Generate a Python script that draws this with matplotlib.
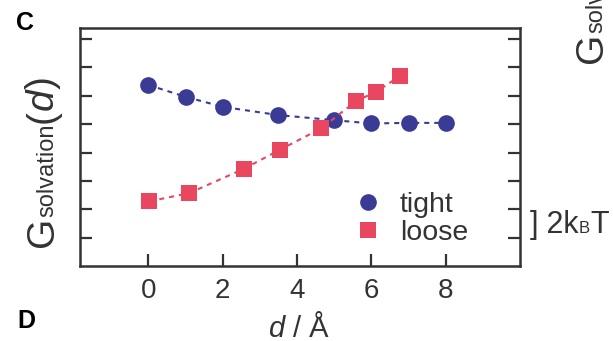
import numpy as np
import matplotlib
matplotlib.use("Agg")
import matplotlib.pyplot as plt
from matplotlib.lines import Line2D

plt.rcParams['font.family'] = ['Liberation Sans', 'DejaVu Sans']
plt.rcParams['mathtext.fontset'] = 'custom'
plt.rcParams['mathtext.rm'] = 'Liberation Sans'
plt.rcParams['mathtext.it'] = 'Liberation Sans:italic'

# solvation free energy (kBT) vs separation d (Angstrom)
d_tight = [0, 1, 2, 3.5, 5, 6, 7, 8]
g_tight = [12.76, 11.93, 11.22, 10.64, 10.28, 10.05, 10.09, 10.09]
d_loose = [0.03, 1.1, 2.56, 3.55, 4.65, 5.6, 6.13, 6.77]
g_loose = [4.56, 5.14, 6.84, 8.21, 9.70, 11.65, 12.28, 13.39]

x_ticks = [0, 2, 4, 6, 8]
y_ticks = [2, 4, 6, 8, 10, 12, 14, 16]

BLUE = '#393b95'
RED = '#e9465f'
INK = '#333333'

W, H = 613, 341
fig = plt.figure(figsize=(W / 100, H / 100), dpi=100)
ax = fig.add_axes([80 / W, (H - 266) / H, 440 / W, 238 / H])

ax.plot(d_tight, g_tight, ls=(0, (2.4, 2.4)), lw=1.5, color=BLUE,
        marker='o', ms=12, mew=0, zorder=3)
ax.plot(d_loose, g_loose, ls=(0, (2.4, 2.4)), lw=1.5, color=RED,
        marker='s', ms=11.5, mew=0, zorder=3)

ax.set_xlim(-1.84, 10.0)
ax.set_ylim(0, 16.78)
ax.set_xticks(x_ticks)
ax.set_yticks(y_ticks)
ax.set_yticklabels([])
ax.tick_params(direction='in', length=8.5, width=1.6, color=INK,
               labelsize=20, labelcolor=INK, pad=8.5, right=True)
for s in ax.spines.values():
    s.set_linewidth(1.8)
    s.set_color(INK)

handles = [Line2D([], [], ls='none', marker='o', ms=12, mew=0, color=BLUE),
           Line2D([], [], ls='none', marker='s', ms=11, mew=0, color=RED)]
ax.legend(handles, ['tight', 'loose'], loc='upper left',
          bbox_to_anchor=(0.627, 0.31), frameon=False, fontsize=20.5,
          handlelength=0.87, handletextpad=0.67, labelspacing=0.05,
          borderpad=0, borderaxespad=0, labelcolor=INK)

fig.canvas.draw()
rend = fig.canvas.get_renderer()


def chain(parts, x, y, rot=0):
    # lay out text pieces along one baseline, in pixel coords
    for s, size, style in parts:
        t = fig.text(x / W, y / H, s, rotation=rot, rotation_mode='anchor',
                     ha='left', va='baseline', fontsize=size,
                     fontstyle=style, color=INK)
        bb = t.get_window_extent(rend)
        if rot == 90:
            y = bb.y1
        else:
            x = bb.x1


gsolv = [('G', 28, 'normal'), ('solvation', 17, 'normal'),
         ('(', 28, 'normal'), ('d', 28, 'italic'), (')', 28, 'normal')]
chain(gsolv, 53, H - 247, rot=90)
chain(gsolv[:2], 602, H - 63, rot=90)
chain([(']', 22, 'normal'), (' 2k', 22, 'normal'), ('B', 12, 'normal'),
       ('T', 22, 'normal')], 530, H - 233)

fig.text(299 / W, (H - 337) / H, r'$d$ / Å', ha='center', va='baseline',
         fontsize=21, color=INK)
fig.text(16 / W, (H - 30) / H, 'C', fontsize=18, fontweight='bold',
         color='black', va='baseline')
fig.text(17 / W, (H - 328) / H, 'D', fontsize=18, fontweight='bold',
         color='black', va='baseline')

fig.savefig('out.png', dpi=100)
